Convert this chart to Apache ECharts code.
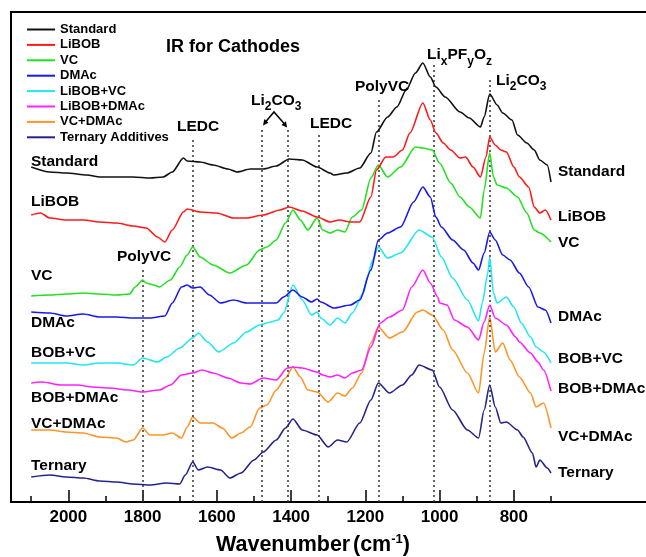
<!DOCTYPE html>
<html><head><meta charset="utf-8">
<script src="https://cdn.jsdelivr.net/npm/echarts/dist/echarts.min.js"></script>
<style>html,body{margin:0;padding:0;background:#fff}#c{width:646px;height:557px}</style>
</head><body><div id="c"></div>
<script>
// ---- tick labels ----
const majorTicks = [2000, 1800, 1600, 1400, 1200, 1000, 800];
const minorTicks = [2100, 1900, 1700, 1500, 1300, 1100, 900, 700];
const seriesNames = ['Standard', 'LiBOB', 'VC', 'DMAc', 'LiBOB+VC', 'LiBOB+DMAc', 'VC+DMAc', 'Ternary Additives'];
const seriesColors = ['#111111', '#ff1a1a', '#22e022', '#1a1ae6', '#22e6f0', '#ff22ff', '#ff9426', '#24248a'];

// ---- spectra: [wavenumber (cm-1), offset absorbance (a.u.)] ----
const standard = [[2100,33.5],[2050,33.0],[2005,32.9],[1950,32.7],[1915,32.5],[1870,32.5],[1825,32.5],[1780,32.4],[1745,32.5],[1720,33.0],[1690,34.4],[1680,34.1],[1645,34.0],[1610,33.7],[1570,33.3],[1545,33.0],[1510,33.3],[1475,33.3],[1440,33.6],[1405,34.3],[1370,34.2],[1330,33.5],[1295,32.9],[1285,32.7],[1250,32.9],[1215,33.4],[1185,34.9],[1170,37.0],[1140,38.5],[1115,39.5],[1090,41.2],[1065,42.9],[1045,43.9],[1025,42.5],[1010,41.5],[985,40.5],[945,39.0],[920,38.4],[890,37.5],[880,38.5],[865,40.8],[845,39.7],[830,38.9],[805,38.2],[790,36.7],[765,35.9],[745,35.2],[730,34.2],[710,33.7],[700,32.0]];
const libob = [[2100,28.7],[2075,28.9],[2050,28.4],[2005,28.2],[1960,28.2],[1915,28.0],[1870,27.9],[1825,27.6],[1790,27.4],[1760,26.5],[1740,26.0],[1720,27.2],[1690,29.0],[1680,29.3],[1645,29.0],[1600,28.9],[1555,28.4],[1520,28.4],[1475,28.7],[1430,29.2],[1405,29.5],[1370,29.1],[1330,28.5],[1295,28.0],[1270,28.2],[1240,28.0],[1215,28.0],[1185,30.5],[1170,33.2],[1145,34.5],[1125,34.5],[1100,35.2],[1080,36.9],[1045,39.9],[1025,38.2],[1010,36.9],[990,35.9],[970,35.2],[945,34.4],[930,34.5],[910,33.5],[890,32.5],[875,34.5],[865,36.5],[850,35.7],[835,35.2],[820,35.0],[800,33.5],[785,32.5],[760,31.5],[745,29.5],[730,28.9],[715,29.2],[700,28.2]];
const vc = [[2100,20.6],[2050,20.7],[2005,20.8],[1960,20.9],[1915,20.8],[1870,20.7],[1835,20.8],[1820,21.5],[1800,22.2],[1790,21.9],[1770,21.7],[1755,21.5],[1725,22.2],[1700,23.5],[1680,24.7],[1665,25.5],[1645,24.5],[1610,23.7],[1565,22.9],[1520,23.7],[1485,25.2],[1465,25.5],[1440,26.2],[1415,27.9],[1395,29.2],[1375,28.2],[1355,27.2],[1330,28.4],[1315,27.2],[1295,26.9],[1275,27.2],[1255,27.0],[1235,28.5],[1210,29.2],[1185,32.4],[1165,33.7],[1140,32.5],[1105,33.5],[1065,35.5],[1045,35.4],[1020,35.2],[1000,33.9],[970,31.9],[945,30.5],[920,29.5],[890,28.4],[880,31.2],[865,34.9],[855,32.5],[845,31.7],[820,31.4],[790,30.5],[765,28.9],[745,27.2],[730,26.9],[700,26.0]];
const dmac = [[2100,19.0],[2050,18.9],[2005,18.6],[1960,18.8],[1915,18.5],[1870,18.5],[1825,18.4],[1780,18.4],[1740,18.6],[1720,19.9],[1695,21.5],[1680,21.7],[1665,21.4],[1645,21.5],[1620,20.7],[1590,19.9],[1555,20.2],[1520,19.9],[1475,19.9],[1440,19.9],[1420,20.5],[1395,21.2],[1370,20.5],[1345,20.0],[1330,20.3],[1320,20.0],[1285,19.4],[1240,19.7],[1215,20.2],[1185,23.2],[1165,26.2],[1140,26.9],[1105,27.5],[1070,30.0],[1045,31.5],[1025,30.5],[1010,28.5],[995,27.5],[965,26.2],[935,25.2],[910,23.9],[895,23.2],[880,24.9],[865,27.0],[850,26.2],[830,24.7],[810,24.2],[785,22.9],[760,21.5],[735,19.5],[715,19.2],[700,17.9]];
const libobVc = [[2100,13.9],[2050,13.9],[2005,13.9],[1960,13.7],[1915,13.9],[1870,13.9],[1825,13.7],[1800,14.4],[1760,14.0],[1735,14.5],[1700,15.4],[1665,16.4],[1650,16.9],[1625,16.0],[1595,15.0],[1555,15.9],[1520,17.0],[1485,17.7],[1455,18.0],[1435,18.2],[1420,18.9],[1395,21.7],[1370,20.2],[1345,18.7],[1330,19.0],[1320,18.4],[1295,17.7],[1275,18.4],[1255,17.9],[1235,18.9],[1205,20.9],[1195,22.5],[1180,24.2],[1165,25.5],[1140,24.4],[1105,24.9],[1055,27.2],[1020,26.5],[995,24.5],[965,22.4],[925,20.2],[895,18.1],[885,19.9],[870,22.9],[865,24.5],[855,20.9],[845,19.9],[820,20.5],[800,19.5],[780,17.9],[755,16.5],[740,15.5],[720,15.0],[700,13.9]];
const libobDmac = [[2100,11.9],[2070,12.0],[2020,11.7],[1975,11.7],[1935,11.5],[1890,11.4],[1840,11.2],[1800,11.0],[1755,11.2],[1725,11.7],[1695,12.7],[1665,12.9],[1640,13.2],[1610,12.9],[1570,12.4],[1535,11.9],[1510,11.8],[1475,12.4],[1440,12.2],[1410,13.4],[1395,13.5],[1370,13.4],[1330,13.0],[1315,12.7],[1295,12.5],[1275,12.7],[1255,12.4],[1235,12.9],[1210,13.2],[1185,15.5],[1160,17.9],[1135,18.5],[1100,19.2],[1075,21.5],[1045,23.2],[1025,21.9],[1005,20.5],[1000,19.9],[980,19.7],[960,18.2],[925,17.5],[895,16.2],[880,18.0],[865,19.7],[850,18.4],[820,17.7],[795,16.5],[785,16.0],[755,14.9],[735,14.0],[720,13.2],[700,11.1]];
const vcDmac = [[2100,7.2],[2050,7.2],[2005,7.0],[1960,6.9],[1915,6.5],[1870,6.4],[1845,6.0],[1825,6.2],[1800,7.4],[1780,6.7],[1745,6.7],[1720,6.9],[1695,6.4],[1680,7.5],[1665,8.5],[1645,7.9],[1610,7.9],[1585,7.4],[1560,6.4],[1535,6.9],[1510,7.5],[1485,9.4],[1465,9.7],[1440,11.2],[1415,12.4],[1395,13.5],[1375,12.5],[1355,11.2],[1330,11.0],[1300,10.0],[1275,10.9],[1255,10.6],[1235,11.4],[1210,12.9],[1185,15.9],[1165,17.5],[1135,16.4],[1100,17.0],[1060,19.0],[1045,19.2],[1020,18.7],[990,17.2],[965,15.2],[925,12.9],[895,10.9],[880,14.9],[865,18.5],[850,15.0],[830,15.9],[810,14.2],[785,12.5],[755,10.9],[740,9.5],[720,9.9],[700,7.4]];
const ternary = [[2100,2.5],[2050,2.7],[2005,2.5],[1960,2.4],[1915,2.1],[1870,2.0],[1825,1.8],[1780,1.7],[1735,1.9],[1700,1.8],[1685,2.7],[1665,4.0],[1650,3.2],[1625,3.5],[1590,3.2],[1565,2.4],[1535,2.9],[1500,4.2],[1475,5.0],[1440,6.2],[1415,7.4],[1395,8.3],[1370,7.2],[1330,6.7],[1300,5.5],[1275,6.2],[1250,6.0],[1215,7.9],[1185,10.2],[1165,11.9],[1135,10.9],[1100,11.7],[1075,12.7],[1055,13.7],[1020,13.2],[1000,11.5],[965,9.2],[925,7.2],[895,6.4],[880,9.2],[865,11.7],[850,9.5],[835,7.9],[820,8.0],[790,7.2],[775,6.5],[750,4.9],[740,3.5],[730,4.2],[710,3.4],[700,2.9]];
const spectra = [standard, libob, vc, dmac, libobVc, libobDmac, vcDmac, ternary];

// ---- assignment lines: [wavenumber, top of dotted line (a.u.)] ----
const assignLines = [[1800,23.5],[1665,36.2],[1480,37.5],[1410,37.5],[1325,37.0],[1165,40.5],[1015,43.8],[865,42.2]];

// ---- curve labels ----
const leftLabels = ['Standard', 'LiBOB', 'VC', 'DMAc', 'BOB+VC', 'BOB+DMAc', 'VC+DMAc', 'Ternary'];
const rightLabels = ['Standard', 'LiBOB', 'VC', 'DMAc', 'BOB+VC', 'BOB+DMAc', 'VC+DMAc', 'Ternary'];

const F = "'Liberation Sans', Arial, Helvetica, sans-serif";
const chart = echarts.init(document.getElementById('c'), null, {renderer: 'canvas'});

function txt(t, x, y, size, rich) {
  const st = {text: t, fontSize: size, fontWeight: 'bold', fontFamily: F, fill: '#000',
    align: 'left', verticalAlign: 'middle', textAlign: 'left', textVerticalAlign: 'middle'};
  if (rich) st.rich = rich;
  return {type: 'text', x: x, y: y, z: 100, style: st};
}
const subRich = (d) => ({
  m: {fontSize: 15.5, fontWeight: 'bold', fontFamily: F, verticalAlign: 'middle'},
  s: {fontSize: 12, fontWeight: 'bold', fontFamily: F, verticalAlign: 'middle', padding: [2 * d, 0, 0, 0]}
});

const leftY = [162, 202, 276, 323, 353, 398, 424, 466];
const rightY = [172, 217, 243, 317, 359, 389, 437, 473];
const graphics = [];
leftLabels.forEach((l, i) => graphics.push(txt(l, 31, leftY[i], 15.5)));
rightLabels.forEach((l, i) => graphics.push(txt(l, 558, rightY[i], 15.5)));
graphics.push(txt('IR for Cathodes', 166, 47, 18));
graphics.push(txt('LEDC', 177, 127, 15.5));
graphics.push(txt('LEDC', 310, 124, 15.5));
graphics.push(txt('PolyVC', 355, 87, 15.5));
graphics.push(txt('PolyVC', 117, 257, 15.5));
graphics.push(txt('{m|Li}{s|2}{m|CO}{s|3}', 251, 101, 15.5, subRich(6)));
graphics.push(txt('{m|Li}{s|2}{m|CO}{s|3}', 496, 81, 15.5, subRich(5.5)));
graphics.push(txt('{m|Li}{s|x}{m|PF}{s|y}{m|O}{s|z}', 427, 55, 15.5, subRich(7)));
graphics.push(txt('{m|Wavenumber}{g| }{m|(cm}{p|-1}{m|)}', 216, 545, 21.5, {
  m: {fontSize: 21.5, fontWeight: 'bold', fontFamily: F, verticalAlign: 'middle'},
  g: {fontSize: 10, fontWeight: 'bold', fontFamily: F, verticalAlign: 'middle'},
  p: {fontSize: 13, fontWeight: 'bold', fontFamily: F, verticalAlign: 'middle', padding: [0, 0, 12, 0]}
}));
// arrows for Li2CO3
graphics.push({type: 'polyline', z: 100, shape: {points: [[265.5, 122], [274, 112], [284.5, 124]]}, style: {stroke: '#000', lineWidth: 1.5, fill: null}});
graphics.push({type: 'polygon', z: 100, shape: {points: [[263, 125.5], [268.5, 122.8], [264.3, 119]]}, style: {fill: '#000'}});
graphics.push({type: 'polygon', z: 100, shape: {points: [[287, 127.5], [286, 121.3], [281.5, 125]]}, style: {fill: '#000'}});

const series = spectra.map((d, i) => ({
  name: seriesNames[i], type: 'line', data: d, symbol: 'none', showSymbol: false, smooth: 0.25, smoothMonotone: 'x',
  lineStyle: {width: 1.6, color: seriesColors[i]}, itemStyle: {color: seriesColors[i]},
  emphasis: {disabled: true}, z: 10 - i
}));
series[0].markLine = {
  silent: true, symbol: 'none', label: {show: false},
  lineStyle: {type: [2, 3], color: '#333', width: 1.5},
  data: assignLines.map(a => [{coord: [a[0], 0]}, {coord: [a[0], a[1]]}])
};

const xBase = {type: 'value', min: 444, max: 2155, inverse: true, splitLine: {show: false}};
chart.setOption({
  animation: false,
  backgroundColor: '#fff',
  grid: {left: 10.8, top: 12, right: 0, height: 490, show: false, containLabel: false},
  legend: {
    orient: 'vertical', left: 27, top: 23, padding: 0, itemWidth: 28, itemHeight: 2, itemGap: 2.4,
    icon: 'rect', data: seriesNames, textStyle: {fontSize: 13, fontWeight: 'bold', fontFamily: F, color: '#000'}
  },
  xAxis: [
    Object.assign({}, xBase, {position: 'bottom',
      axisLine: {show: true, onZero: false, lineStyle: {color: '#000', width: 2}},
      axisTick: {show: true, inside: true, length: 12, customValues: majorTicks, lineStyle: {color: '#000', width: 1.5}},
      axisLabel: {show: true, customValues: majorTicks, margin: 7, fontSize: 17, fontWeight: 'bold', fontFamily: F, color: '#000',
        formatter: v => String(v)}}),
    Object.assign({}, xBase, {position: 'bottom', offset: 0,
      axisLine: {show: false},
      axisTick: {show: true, inside: true, length: 6, customValues: minorTicks, lineStyle: {color: '#000', width: 1.5}},
      axisLabel: {show: false}}),
    Object.assign({}, xBase, {position: 'top', offset: 0,
      axisLine: {show: true, onZero: false, lineStyle: {color: '#000', width: 2}},
      axisTick: {show: false}, axisLabel: {show: false}})
  ],
  yAxis: {type: 'value', min: 0, max: 49, position: 'left',
    axisLine: {show: true, onZero: false, lineStyle: {color: '#000', width: 2}},
    axisTick: {show: false}, axisLabel: {show: false}, splitLine: {show: false}},
  graphic: graphics,
  series: series
});
</script></body></html>
